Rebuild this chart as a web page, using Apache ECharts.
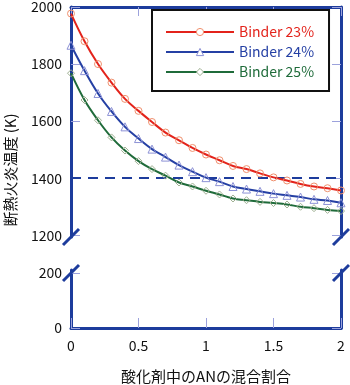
<!DOCTYPE html>
<html>
<head>
<meta charset="utf-8">
<script src="https://cdn.jsdelivr.net/npm/echarts@6/dist/echarts.min.js"></script>
<style>
html,body{margin:0;padding:0;background:#fff;}
#c{width:350px;height:385px;}
</style>
</head>
<body>
<div id="c"></div>
<script>
// ---- data ----
var xValues = [0, 0.1, 0.2, 0.3, 0.4, 0.5, 0.6, 0.7, 0.8, 0.9, 1.0, 1.1, 1.2, 1.3, 1.4, 1.5, 1.6, 1.7, 1.8, 1.9, 2.0];
var binder23 = [1977, 1880, 1800, 1735, 1678, 1636, 1597, 1560, 1533, 1506, 1483, 1463, 1443, 1432, 1417, 1403, 1392, 1380, 1371, 1365, 1357];
var binder24 = [1866, 1777, 1697, 1634, 1580, 1539, 1502, 1474, 1446, 1423, 1402, 1388, 1371, 1362, 1354, 1346, 1340, 1334, 1326, 1322, 1314];
var binder25 = [1768, 1674, 1603, 1543, 1497, 1460, 1432, 1409, 1385, 1371, 1356, 1343, 1329, 1323, 1317, 1313, 1308, 1300, 1295, 1289, 1285];
var seriesNames = ['Binder 23%', 'Binder 24%', 'Binder 25%'];
var xTicks = [0, 0.5, 1, 1.5, 2];
var upperTicks = [1200, 1400, 1600, 1800, 2000];
var lowerTicks = [0, 200];
var refLine = 1400;
var xTitle = '酸化剤中のANの混合割合';
var yTitle = '断熱火炎温度 (K)';

// ---- styling ----
var AXIS = '#1d3c9c';
var TICK = '#9ca2dc';
var FONT = '"Noto Sans CJK JP", "Noto Sans", sans-serif';
var lineColors = ['#e3231b', '#2540a4', '#1f6b3a'];
var markColors = ['#f0906e', '#8d92d6', '#9fb092'];
var symbols = ['circle', 'triangle', 'diamond'];
var symbolSizes = [7, 8, 7];

function pairs(arr) { return xValues.map(function (x, i) { return [x, arr[i]]; }); }
function plain(v) { return String(v); }

var chart = echarts.init(document.getElementById('c'), null, {renderer: 'canvas'});

var datasets = [binder23, binder24, binder25];
var series = datasets.map(function (d, i) {
  var s = {
    name: seriesNames[i],
    type: 'line',
    xAxisIndex: 0,
    yAxisIndex: 0,
    data: pairs(d),
    smooth: 0.4,
    symbol: symbols[i],
    symbolSize: symbolSizes[i],
    showSymbol: true,
    clip: false,
    lineStyle: {color: lineColors[i], width: 2},
    itemStyle: {color: 'rgba(255,255,255,0)', borderColor: markColors[i], borderWidth: 1},
    emphasis: {disabled: true},
    z: 3
  };
  if (i === 0) {
    s.markLine = {
      silent: true,
      symbol: 'none',
      label: {show: false},
      lineStyle: {color: AXIS, type: [10, 7], width: 2},
      data: [{yAxis: refLine}],
      z: 2
    };
  }
  return s;
});

var gridL = 71, gridR = 9;

var option = {
  animation: false,
  backgroundColor: '#fff',
  textStyle: {fontFamily: FONT},
  grid: [
    {left: gridL, right: gridR, top: 1.5, height: 235.5},
    {left: gridL, right: gridR, top: 270, height: 67}
  ],
  xAxis: [
    {gridIndex: 0, type: 'value', min: 0, max: 2, interval: 0.5, position: 'top',
      axisLine: {show: true, onZero: false, lineStyle: {color: AXIS, width: 3}},
      axisTick: {show: true, inside: true, length: 9, lineStyle: {color: TICK, width: 1}},
      axisLabel: {show: false}, splitLine: {show: false}},
    {gridIndex: 1, type: 'value', min: 0, max: 2, interval: 0.5, position: 'bottom',
      axisLine: {show: true, onZero: false, lineStyle: {color: AXIS, width: 3}},
      axisTick: {show: true, inside: true, length: 10, lineStyle: {color: TICK, width: 1}},
      axisLabel: {show: true, color: '#111', fontSize: 14, margin: 11, fontFamily: FONT,
        customValues: xTicks, formatter: plain},
      splitLine: {show: false},
      name: xTitle, nameLocation: 'middle', nameGap: 41,
      nameTextStyle: {color: '#111', fontSize: 15, fontFamily: FONT}}
  ],
  yAxis: [
    {gridIndex: 0, type: 'value', min: 1194, max: 2000, position: 'left',
      axisLine: {show: true, onZero: false, lineStyle: {color: AXIS, width: 3}},
      axisTick: {show: true, inside: true, length: 9, customValues: upperTicks, lineStyle: {color: TICK, width: 1}},
      axisLabel: {show: true, color: '#111', fontSize: 14, margin: 9, fontFamily: FONT, customValues: upperTicks, formatter: plain},
      splitLine: {show: false}},
    {gridIndex: 0, type: 'value', min: 1194, max: 2000, position: 'right',
      axisLine: {show: true, onZero: false, lineStyle: {color: AXIS, width: 3}},
      axisTick: {show: true, inside: true, length: 9, customValues: upperTicks, lineStyle: {color: TICK, width: 1}},
      axisLabel: {show: false}, splitLine: {show: false}},
    {gridIndex: 1, type: 'value', min: 0, max: 210, position: 'left',
      axisLine: {show: true, onZero: false, lineStyle: {color: AXIS, width: 3}},
      axisTick: {show: true, inside: true, length: 9, customValues: lowerTicks, lineStyle: {color: TICK, width: 1}},
      axisLabel: {show: true, color: '#111', fontSize: 14, margin: 9, fontFamily: FONT, customValues: lowerTicks, formatter: plain},
      splitLine: {show: false}},
    {gridIndex: 1, type: 'value', min: 0, max: 210, position: 'right',
      axisLine: {show: true, onZero: false, lineStyle: {color: AXIS, width: 3}},
      axisTick: {show: true, inside: true, length: 9, customValues: lowerTicks, lineStyle: {color: TICK, width: 1}},
      axisLabel: {show: false}, splitLine: {show: false}}
  ],
  legend: {
    orient: 'vertical',
    left: 152, top: 10,
    padding: [15, 15, 12, 13],
    itemWidth: 68, itemHeight: 9, itemGap: 6,
    borderColor: '#111', borderWidth: 2, backgroundColor: '#fff',
    selectedMode: false,
    data: seriesNames.map(function (n, i) {
      return {name: n,
        itemStyle: {color: '#fff', borderColor: markColors[i], borderWidth: 1},
        textStyle: {color: lineColors[i], fontSize: 14, fontFamily: FONT}};
    })
  },
  graphic: [
    {type: 'text', x: 10, y: 170, rotation: Math.PI / 2,
      style: {text: yTitle, fontSize: 15, fontFamily: FONT, fill: '#111', align: 'center', verticalAlign: 'middle'}},
    {type: 'line', shape: {x1: 63, y1: 245, x2: 79, y2: 229}, style: {stroke: AXIS, lineWidth: 3}, z: 10},
    {type: 'line', shape: {x1: 333, y1: 245, x2: 349, y2: 229}, style: {stroke: AXIS, lineWidth: 3}, z: 10},
    {type: 'line', shape: {x1: 63, y1: 281, x2: 79, y2: 265}, style: {stroke: AXIS, lineWidth: 3}, z: 10},
    {type: 'line', shape: {x1: 333, y1: 281, x2: 349, y2: 265}, style: {stroke: AXIS, lineWidth: 3}, z: 10}
  ],
  series: series
};
chart.setOption(option);
</script>
</body>
</html>
